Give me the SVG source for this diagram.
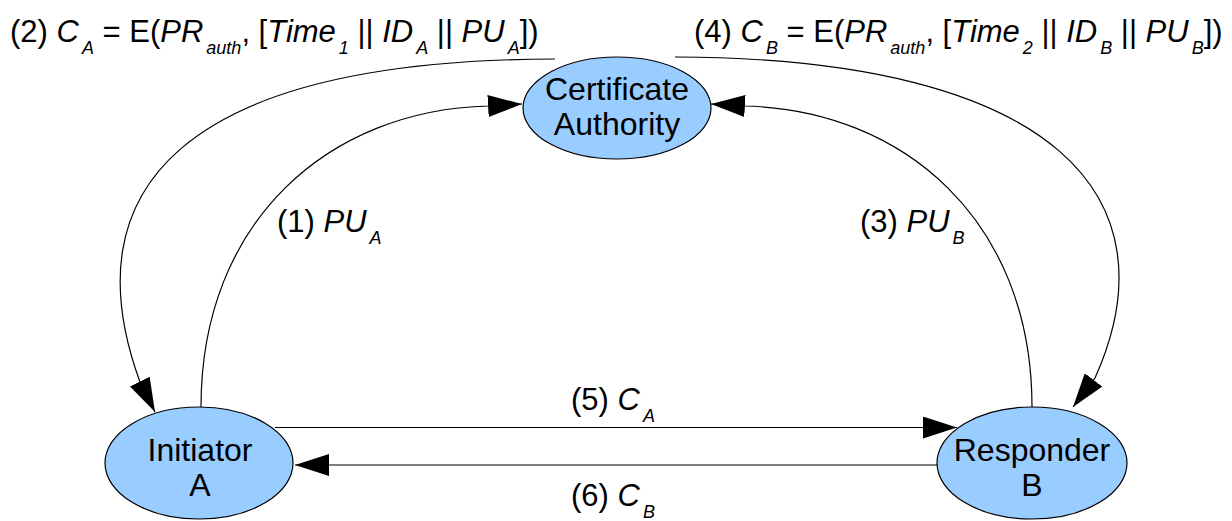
<svg xmlns="http://www.w3.org/2000/svg" width="1232" height="521" viewBox="0 0 1232 521">
<style>
.node{fill:#99ccff;stroke:#000;stroke-width:1.2}
.lbl{font-family:"Liberation Sans",Arial,sans-serif;font-size:31px;fill:#000}
.nt{font-family:"Liberation Sans",Arial,sans-serif;font-size:32px;fill:#000;text-anchor:middle}
.it{font-style:italic}
.sub{font-style:italic;font-size:18px}
.edge{fill:none;stroke:#000;stroke-width:1.2;marker-end:url(#ah)}
</style>
<defs>
<marker id="ah" markerUnits="userSpaceOnUse" markerWidth="34" markerHeight="22" refX="34" refY="11" orient="auto" viewBox="0 0 34 22">
<path d="M0,0 L34,11 L0,22 z" fill="#000"/>
</marker>
</defs>
<g id="connectors">
<path class="edge" d="M201,407 C201,220 330,110 488,106 L522,104"/>
<path class="edge" d="M1032,407 C1032,220 903,110 745,106 L711,104"/>
<path class="edge" d="M555,59 C180,60 70,190 140,382 L155,412"/>
<path class="edge" d="M675,57 C1060,58 1175,200 1095,378 L1073,407"/>
<path class="edge" d="M275,427.5 L957,427.5"/>
<path class="edge" d="M937,465 L295,465"/>
</g>
<g id="node-ca">
<ellipse class="node" cx="617" cy="108" rx="94" ry="51"/>
<text class="nt" x="617" y="100">Certificate</text>
<text class="nt" x="617" y="135">Authority</text>
</g>
<g id="node-initiator">
<ellipse class="node" cx="199" cy="463" rx="94" ry="56"/>
<text class="nt" x="200" y="461">Initiator</text>
<text class="nt" x="200" y="496">A</text>
</g>
<g id="node-responder">
<ellipse class="node" cx="1032" cy="463" rx="95" ry="56"/>
<text class="nt" x="1032" y="461">Responder</text>
<text class="nt" x="1032" y="496">B</text>
</g>
<g id="labels">
<text class="lbl" x="10" y="42">(2) <tspan class="it">C</tspan><tspan class="sub" dx="3" dy="12">A</tspan><tspan dy="-12"> = E(</tspan><tspan class="it">PR</tspan><tspan class="sub" dx="3" dy="12">auth</tspan><tspan dy="-12">, [</tspan><tspan class="it">Time</tspan><tspan class="sub" dx="3" dy="12">1</tspan><tspan dy="-12"> || </tspan><tspan class="it">ID</tspan><tspan class="sub" dx="3" dy="12">A</tspan><tspan dy="-12"> || </tspan><tspan class="it">PU</tspan><tspan class="sub" dx="3" dy="12">A</tspan><tspan dy="-12">])</tspan></text>
<text class="lbl" x="694" y="42">(4) <tspan class="it">C</tspan><tspan class="sub" dx="3" dy="12">B</tspan><tspan dy="-12"> = E(</tspan><tspan class="it">PR</tspan><tspan class="sub" dx="3" dy="12">auth</tspan><tspan dy="-12">, [</tspan><tspan class="it">Time</tspan><tspan class="sub" dx="3" dy="12">2</tspan><tspan dy="-12"> || </tspan><tspan class="it">ID</tspan><tspan class="sub" dx="3" dy="12">B</tspan><tspan dy="-12"> || </tspan><tspan class="it">PU</tspan><tspan class="sub" dx="3" dy="12">B</tspan><tspan dy="-12">])</tspan></text>
<text class="lbl" x="277" y="232">(1) <tspan class="it">PU</tspan><tspan class="sub" dx="3" dy="12">A</tspan></text>
<text class="lbl" x="860" y="232">(3) <tspan class="it">PU</tspan><tspan class="sub" dx="3" dy="12">B</tspan></text>
<text class="lbl" x="571" y="410">(5) <tspan class="it">C</tspan><tspan class="sub" dx="3" dy="12">A</tspan></text>
<text class="lbl" x="571" y="506">(6) <tspan class="it">C</tspan><tspan class="sub" dx="3" dy="12">B</tspan></text>
</g>
</svg>
